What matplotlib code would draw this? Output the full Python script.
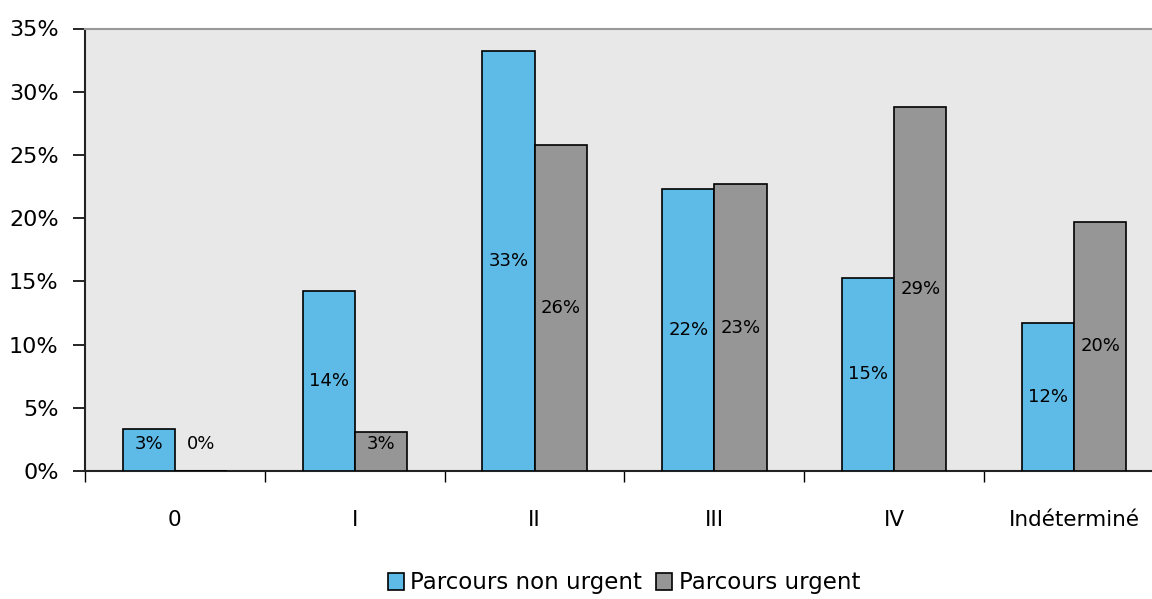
import numpy as np
import matplotlib
matplotlib.use("Agg")
import matplotlib.pyplot as plt
from matplotlib.patches import Patch
from matplotlib.ticker import FixedLocator, PercentFormatter

# stades et pourcentages par type de parcours
stades = ["0", "I", "II", "III", "IV", "Indéterminé"]
non_urgent = [3.3, 14.2, 33.2, 22.3, 15.3, 11.7]
urgent = [0.0, 3.1, 25.8, 22.7, 28.8, 19.7]
labels_non_urgent = ["3%", "14%", "33%", "22%", "15%", "12%"]
labels_urgent = ["0%", "3%", "26%", "23%", "29%", "20%"]

bleu = "#5EBAE7"
gris = "#969696"

plt.rcParams['font.family'] = ['DejaVu Sans']

fig = plt.figure(figsize=(11.52, 5.99), dpi=100)
ax = fig.add_axes([85/1152, 128/599, 1079/1152, 442.5/599])
ax.set_facecolor("#E8E8E8")

x = np.arange(len(stades))
w = 0.29
b1 = ax.bar(x - w/2, non_urgent, w, color=bleu, edgecolor="black", linewidth=1.2, zorder=3)
b2 = ax.bar(x + w/2, urgent, w, color=gris, edgecolor="black", linewidth=1.2, zorder=3)

# étiquettes au milieu des barres
for xi, v, t in zip(x - w/2, non_urgent, labels_non_urgent):
    ax.text(xi, max(v/2, 2.1), t, ha="center", va="center", fontsize=13, zorder=4)
for xi, v, t in zip(x + w/2, urgent, labels_urgent):
    ax.text(xi, max(v/2, 2.1), t, ha="center", va="center", fontsize=13, zorder=4)

ax.set_xlim(-0.5, len(stades) - 0.5)
ax.set_ylim(0, 35)
ax.set_yticks(np.arange(0, 36, 5))
ax.yaxis.set_major_formatter(PercentFormatter(decimals=0))
ax.tick_params(axis="y", direction="out", length=9, width=1.2, pad=10, labelsize=16)

ax.set_xticks(x)
ax.set_xticklabels(stades)
ax.xaxis.set_minor_locator(FixedLocator(np.arange(-0.5, len(stades), 1)))
ax.tick_params(axis="x", which="major", length=0, pad=28, labelsize=15.5)
ax.tick_params(axis="x", which="minor", direction="out", length=8, width=1.0)

for s in ["left", "bottom"]:
    ax.spines[s].set_color("#222222")
    ax.spines[s].set_linewidth(1.5)
for s in ["top", "right"]:
    ax.spines[s].set_color("#999999")
    ax.spines[s].set_linewidth(1.5)

handles = [Patch(facecolor=bleu, edgecolor="black", linewidth=1.2),
           Patch(facecolor=gris, edgecolor="black", linewidth=1.2)]
fig.legend(handles, ["Parcours non urgent", "Parcours urgent"], loc="center",
           bbox_to_anchor=(624/1152, 16/599), ncol=2, frameon=False, fontsize=16.5,
           handlelength=0.7, handleheight=0.7, handletextpad=0.3, columnspacing=0.6)

fig.savefig("out.png", dpi=100)
